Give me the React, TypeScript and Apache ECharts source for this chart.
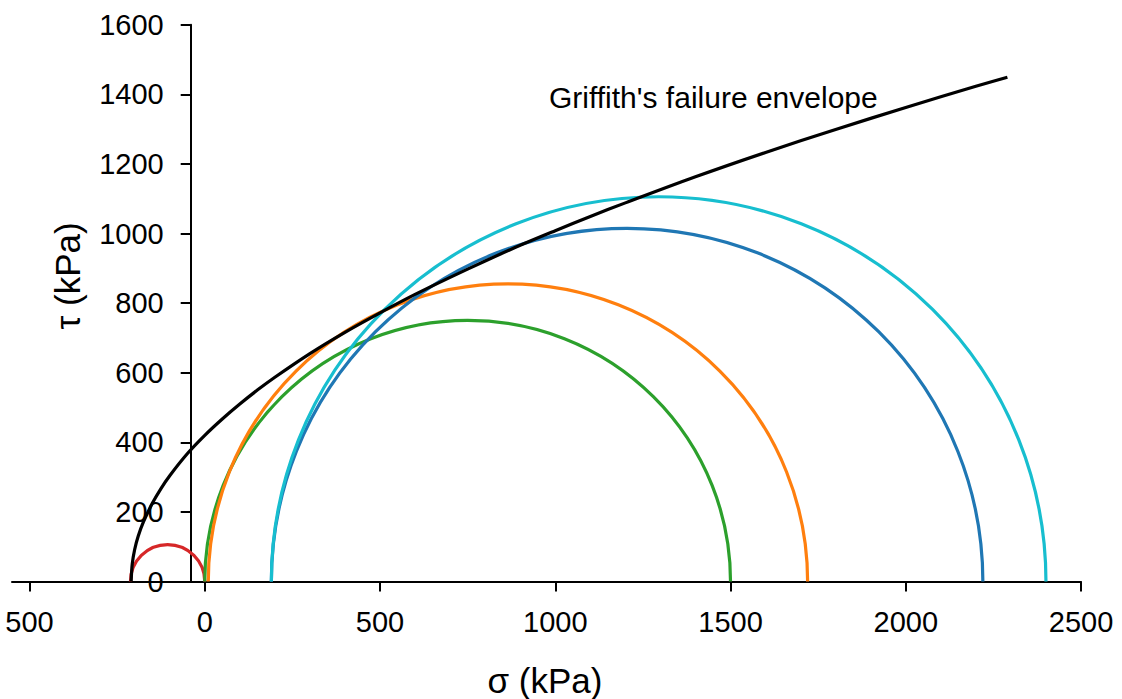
import React, { useEffect, useRef } from "react";
import * as echarts from "echarts";

// Axis ticks
const xTickValues = [-500, 0, 500, 1000, 1500, 2000, 2500];
const yTickMax = 1600;
const yTickStep = 200;

// Griffith's failure envelope (sigma, tau), kPa
const envelopeSigma = [-210, -207, -200, -190, -175, -150, -125, -100, -50, 0, 50, 100, 150, 200, 300, 400, 500, 600, 700, 800, 900, 1000, 1100, 1200, 1400, 1600, 1800, 2000, 2200, 2290];
const envelopeTau = [0, 50, 92, 130, 171, 224, 267, 304, 367, 420, 467, 510, 550, 587, 655, 716, 772, 825, 874, 921, 966, 1008, 1049, 1088, 1163, 1233, 1299, 1362, 1423, 1449];

// Mohr circles: centre and radius, kPa
const circleCenters = [-106, 750, 865, 1205, 1295];
const circleRadii = [106, 750, 855, 1015, 1105];
const circleColors = ["#d62728", "#2ca02c", "#ff7f0e", "#1f77b4", "#17becf"];

const envelopeLabel = "Griffith's failure envelope";
const xTitle = "σ (kPa)";
const yTitle = "τ (kPa)";

const FONT = "'Liberation Sans', Arial, sans-serif";

export default function App() {
  const ref = useRef<HTMLDivElement>(null);
  useEffect(() => {
    if (!ref.current) return;
    const chart = echarts.init(ref.current, null, { renderer: "svg" });
    const envelopeData = envelopeSigma.map((s, i) => [s, envelopeTau[i]]);
    const circleData = circleCenters.map((c, i) => [c, circleRadii[i]]);
    chart.setOption({
      animation: false,
      backgroundColor: "#ffffff",
      textStyle: { fontFamily: FONT },
      grid: {
        left: 12,
        right: 41,
        top: 24.7,
        bottom: 117.5,
        containLabel: false,
        outerBoundsMode: "none",
      },
      xAxis: {
        type: "value",
        min: -550,
        max: 2500,
        axisLine: { show: true, onZero: false, lineStyle: { color: "#000", width: 2 } },
        axisTick: {
          show: true,
          customValues: xTickValues,
          length: 10,
          lineStyle: { color: "#000", width: 2 },
        },
        axisLabel: {
          customValues: xTickValues,
          formatter: (v: number) => String(Math.abs(v)),
          color: "#000",
          fontSize: 29,
          fontFamily: FONT,
          margin: 26,
        },
        splitLine: { show: false },
      },
      yAxis: {
        type: "value",
        min: 0,
        max: yTickMax,
        interval: yTickStep,
        position: "left",
        offset: -178.7,
        axisLine: { show: true, onZero: false, lineStyle: { color: "#000", width: 2 } },
        axisTick: { show: true, length: 10, lineStyle: { color: "#000", width: 2 } },
        axisLabel: {
          formatter: (v: number) => String(v),
          color: "#000",
          fontSize: 29,
          fontFamily: FONT,
          margin: 27,
        },
        splitLine: { show: false },
      },
      graphic: [
        {
          type: "text",
          left: 549,
          top: 82,
          style: { text: envelopeLabel, font: `30px ${FONT}`, fill: "#000" },
        },
        {
          type: "text",
          x: 545,
          y: 680,
          style: {
            text: xTitle,
            font: `35px ${FONT}`,
            fill: "#000",
            align: "center",
            verticalAlign: "middle",
          },
        },
        {
          type: "text",
          x: 67,
          y: 276,
          rotation: Math.PI / 2,
          style: {
            text: yTitle,
            font: `35px ${FONT}`,
            fill: "#000",
            align: "center",
            verticalAlign: "middle",
          },
        },
      ],
      series: [
        {
          type: "line",
          data: envelopeData,
          smooth: 0.3,
          symbol: "none",
          lineStyle: { color: "#000", width: 3.2 },
          z: 3,
        },
        {
          type: "custom",
          coordinateSystem: "cartesian2d",
          data: circleData,
          encode: { x: 0, y: 1 },
          z: 2,
          renderItem: (params: any, api: any) => {
            const c = api.value(0);
            const r = api.value(1);
            const left = api.coord([c - r, 0]);
            const right = api.coord([c + r, 0]);
            const top = api.coord([c, r]);
            const rx = (right[0] - left[0]) / 2;
            const ry = left[1] - top[1];
            return {
              type: "path",
              shape: {
                pathData: `M${left[0]} ${left[1]} A${rx} ${ry} 0 0 1 ${right[0]} ${right[1]}`,
              },
              style: {
                fill: "none",
                stroke: circleColors[params.dataIndex],
                lineWidth: 3.2,
              },
            };
          },
        },
      ],
    });
    return () => chart.dispose();
  }, []);
  return (
    <div
      ref={ref}
      style={{ position: "absolute", left: 0, top: 0, width: 1122, height: 699 }}
    />
  );
}
